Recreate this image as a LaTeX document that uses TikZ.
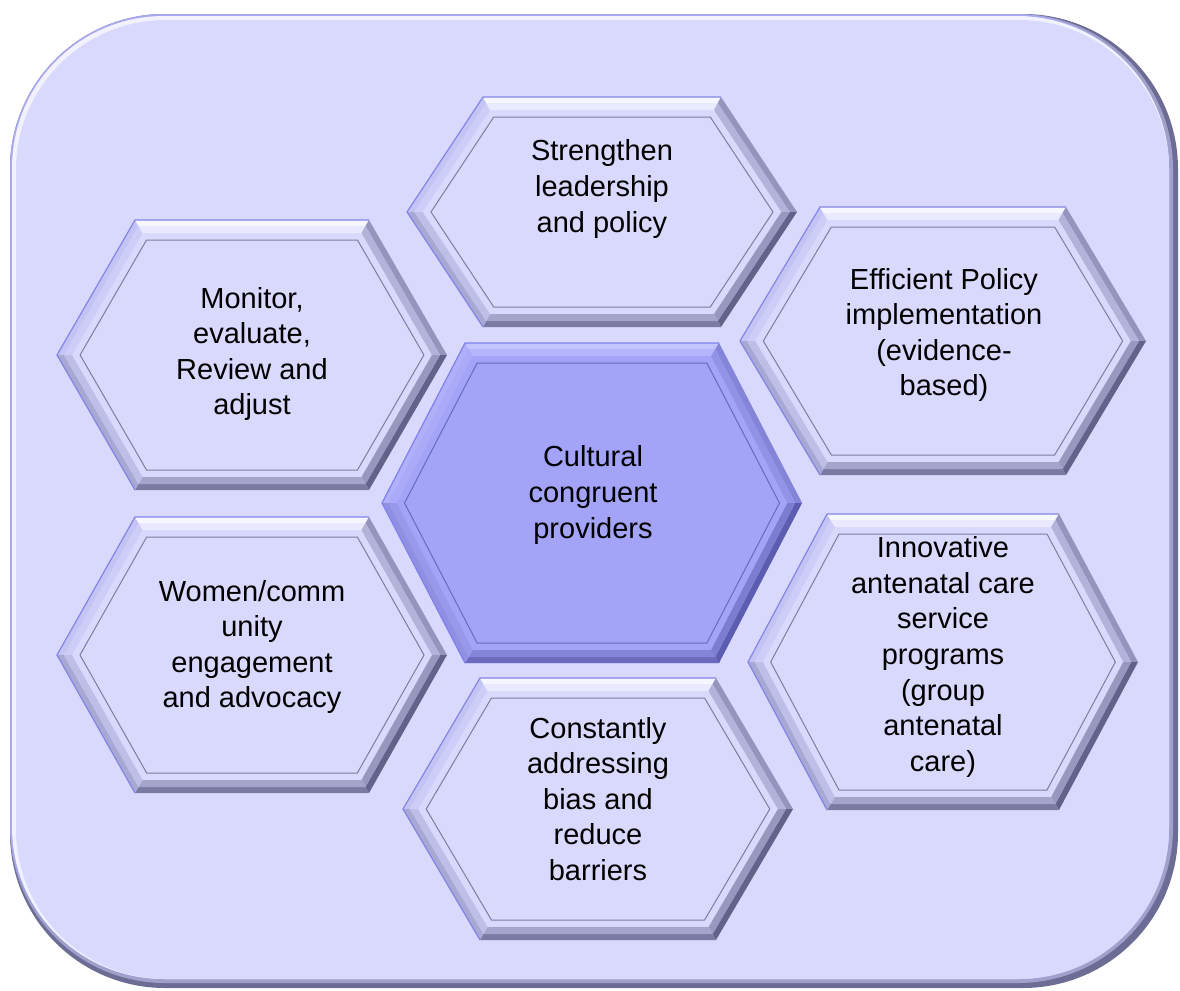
\documentclass[tikz,border=0pt]{standalone}
\usepackage{fontspec}
\setmainfont{Liberation Sans}
\usepackage{tikz}

% lavender cells
\definecolor{lavF}{HTML}{D9D9FE}
\definecolor{lavT}{HTML}{F6F6FF}
\definecolor{lavUL}{HTML}{C4C4F4}
\definecolor{lavUR}{HTML}{9494BC}
\definecolor{lavLR}{HTML}{62628A}
\definecolor{lavB}{HTML}{7A7AA2}
\definecolor{lavLL}{HTML}{A8A8D4}
\definecolor{lavR}{HTML}{8484E6}
\definecolor{lavL}{HTML}{7E7E9A}
% blue centre cell
\definecolor{bluF}{HTML}{A3A3F8}
\definecolor{bluT}{HTML}{C4C4FF}
\definecolor{bluUL}{HTML}{B0B0FA}
\definecolor{bluUR}{HTML}{8484D8}
\definecolor{bluLR}{HTML}{5C5CB0}
\definecolor{bluB}{HTML}{6A6ABE}
\definecolor{bluLL}{HTML}{9090E2}
\definecolor{bluR}{HTML}{8080F0}
\definecolor{bluL}{HTML}{6A6AB8}
% frame
\definecolor{frameDark}{HTML}{6C6C94}
\definecolor{frameMid}{HTML}{A0A0CC}
\definecolor{frameRim}{HTML}{A8A8F0}
\definecolor{frameHi}{HTML}{F2F2FF}

% corners of the hexagon moved inwards by #1
\newcommand\hexcorners[2]{%
  \pgfmathsetmacro\hw{\hexw-(#1)*veclen(\hexo,\hexh)/\hexh}
  \pgfmathsetmacro\hh{\hexh-(#1)}
  \pgfmathsetmacro\ho{\hexo*(\hexh-(#1))/\hexh}
  \coordinate (#21) at (-\hw,0);
  \coordinate (#22) at (-\hw+\ho,-\hh);
  \coordinate (#23) at (\hw-\ho,-\hh);
  \coordinate (#24) at (\hw,0);
  \coordinate (#25) at (\hw-\ho,\hh);
  \coordinate (#26) at (-\hw+\ho,\hh);
}

\tikzset{
  bevel hex/.pic={
    \tikzset{/hex/.cd,#1}
    \hexcorners{0}{o}
    \hexcorners{6}{m}
    \hexcorners{13}{i}
    \hexcorners{20}{f}
    \fill[fill=\hexpal F] (o1) -- (o2) -- (o3) -- (o4) -- (o5) -- (o6) -- cycle;
    \foreach \a/\b/\side in {1/2/UL,2/3/T,3/4/UR,4/5/LR,5/6/B,6/1/LL}{
      \fill[fill=\hexpal\side] (o\a) -- (o\b) -- (m\b) -- (m\a) -- cycle;
      \fill[fill=\hexpal\side!55!\hexpal F] (m\a) -- (m\b) -- (i\b) -- (i\a) -- cycle;
    }
    \draw[draw=\hexpal R, line width=0.6pt] (o6) -- (o1) -- (o2) -- (o3);
    \draw[draw=\hexpal L, line width=0.5pt] (f1) -- (f2) -- (f3) -- (f4) -- (f5) -- (f6) -- cycle;
  },
  /hex/.search also={/tikz},
  /hex/.cd,
  half width/.store in=\hexw,
  half height/.store in=\hexh,
  slant/.store in=\hexo,
  palette/.store in=\hexpal,
  half width=195,
  half height=135,
  slant=78,
  palette=lav,
}

\begin{document}
\begin{tikzpicture}[x=0.5pt, y=-0.5pt,
    hex text/.style={align=center, font=\fontsize{14.5}{17.8}\selectfont, inner sep=0pt}]
  \useasboundingbox (0,0) rectangle (1180,991);

  % raised frame
  \fill[frameDark, rounded corners=77.5pt] (10,14) rectangle (1178,988);
  \fill[frameMid, rounded corners=77.5pt] (10,14) rectangle (1173,983);
  \fill[frameRim, rounded corners=77.5pt] (10,14) rectangle (1169,979);
  \fill[frameHi, rounded corners=76pt] (12,16) rectangle (1169,979);
  \fill[lavF, rounded corners=75pt] (16,20) rectangle (1169,979);

  % cells
  \pic at (602,212) {bevel hex={half height=115, slant=76}};
  \pic at (252,355) {bevel hex};
  \pic at (943,341) {bevel hex={half width=203, half height=134, slant=80}};
  \pic at (592,503) {bevel hex={half width=210, half height=160, slant=83, palette=blu}};
  \pic at (252,655) {bevel hex={half height=138}};
  \pic at (943,662) {bevel hex={half height=148, slant=79}};
  \pic at (598,809) {bevel hex={half height=131, slant=77}};

  \node[hex text] (lead) at (602,189) {Strengthen\\leadership\\and policy};
  \node[hex text] (monitor) at (252,354) {Monitor,\\evaluate,\\Review and\\adjust};
  \node[hex text] (policy) at (944,335) {Efficient Policy\\implementation\\(evidence-\\based)};
  \node[hex text] (core) at (593,495) {Cultural\\congruent\\providers};
  \node[hex text] (women) at (252,647) {Women/comm\\unity\\engagement\\and advocacy};
  \node[hex text] (service) at (943,657) {Innovative\\antenatal care\\service\\programs\\(group\\antenatal\\care)};
  \node[hex text] (bias) at (598,799) {Constantly\\addressing\\bias and\\reduce\\barriers};
\end{tikzpicture}
\end{document}
